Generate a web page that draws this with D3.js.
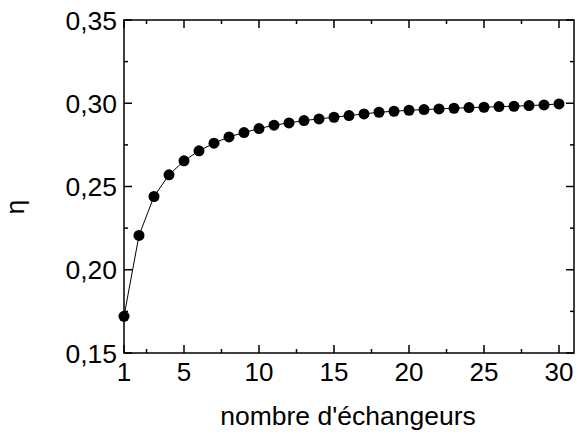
<!DOCTYPE html>
<html>
<head>
<meta charset="utf-8">
<script src="https://cdn.jsdelivr.net/npm/d3@7"></script>
<style>
  html, body { margin: 0; padding: 0; background: #fff; }
  text { font-family: "Liberation Sans", Arial, sans-serif; fill: #000; }
</style>
</head>
<body>
<svg id="chart" width="578" height="434"></svg>
<script>
const nValues = [1,2,3,4,5,6,7,8,9,10,11,12,13,14,15,16,17,18,19,20,21,22,23,24,25,26,27,28,29,30];
const etaValues = [0.172,0.2206,0.244,0.257,0.2654,0.2714,0.276,0.2798,0.2824,0.2848,0.2868,0.2882,0.2896,0.2906,0.2916,0.2926,0.2936,0.2946,0.2952,0.2958,0.2962,0.2966,0.2970,0.2974,0.2976,0.2980,0.2982,0.2986,0.2990,0.2996];
const xMajorTicks = [1,5,10,15,20,25,30];
const xMinorTicks = [2.5,7.5,12.5,17.5,22.5,27.5];
const yMajorTicks = [0.15,0.20,0.25,0.30,0.35];
const yMinorTicks = [0.175,0.225,0.275,0.325];
const xLabel = "nombre d'échangeurs";
const yLabel = "η";

const svg = d3.select("#chart");
const pLeft = 124, pRight = 574, pTop = 20, pBottom = 353;
const x = d3.scaleLinear().domain([1,31]).range([pLeft,pRight]);
const y = d3.scaleLinear().domain([0.15,0.35]).range([pBottom,pTop]);
const fmtY = v => d3.format(".2f")(v).replace(".", ",");

const g = svg.append("g");

// frame
g.append("rect").attr("x", pLeft).attr("y", pTop).attr("width", pRight-pLeft).attr("height", pBottom-pTop)
  .attr("fill","none").attr("stroke","#000").attr("stroke-width",1.5);

function xticks(values, len) {
  values.forEach(v => {
    g.append("line").attr("x1", x(v)).attr("x2", x(v)).attr("y1", pBottom).attr("y2", pBottom-len).attr("stroke","#000").attr("stroke-width",1.5);
    g.append("line").attr("x1", x(v)).attr("x2", x(v)).attr("y1", pTop).attr("y2", pTop+len).attr("stroke","#000").attr("stroke-width",1.5);
  });
}
xticks(xMajorTicks, 8);
xticks(xMinorTicks, 4);
function yticks(values, len) {
  values.forEach(v => {
    g.append("line").attr("x1", pLeft).attr("x2", pLeft+len).attr("y1", y(v)).attr("y2", y(v)).attr("stroke","#000").attr("stroke-width",1.5);
    g.append("line").attr("x1", pRight).attr("x2", pRight-len).attr("y1", y(v)).attr("y2", y(v)).attr("stroke","#000").attr("stroke-width",1.5);
  });
}
yticks(yMajorTicks, 8);
yticks(yMinorTicks, 4);

// tick labels
g.selectAll(".xl").data(xMajorTicks).enter().append("text")
  .attr("x", d => x(d)).attr("y", 381).attr("text-anchor","middle").attr("font-size", 26).text(d => d);
g.selectAll(".yl").data(yMajorTicks).enter().append("text")
  .attr("x", 117).attr("y", d => y(d) + 9.5).attr("text-anchor","end").attr("font-size", 26.5).text(d => fmtY(d));

// axis titles
g.append("text").attr("x", 348).attr("y", 425).attr("text-anchor","middle").attr("font-size", 26.5).text(xLabel);
g.append("text").attr("transform", "translate(24,207) rotate(-90)").attr("text-anchor","middle").attr("font-size", 26).text(yLabel);

// data
const data = nValues.map((n,i) => ({n, v: etaValues[i]}));
g.append("path").datum(data)
  .attr("d", d3.line().x(d => x(d.n)).y(d => y(d.v)))
  .attr("fill","none").attr("stroke","#000").attr("stroke-width",1);
g.selectAll(".pt").data(data).enter().append("circle")
  .attr("cx", d => x(d.n)).attr("cy", d => y(d.v)).attr("r", 5.5).attr("fill","#000");
</script>
</body>
</html>
